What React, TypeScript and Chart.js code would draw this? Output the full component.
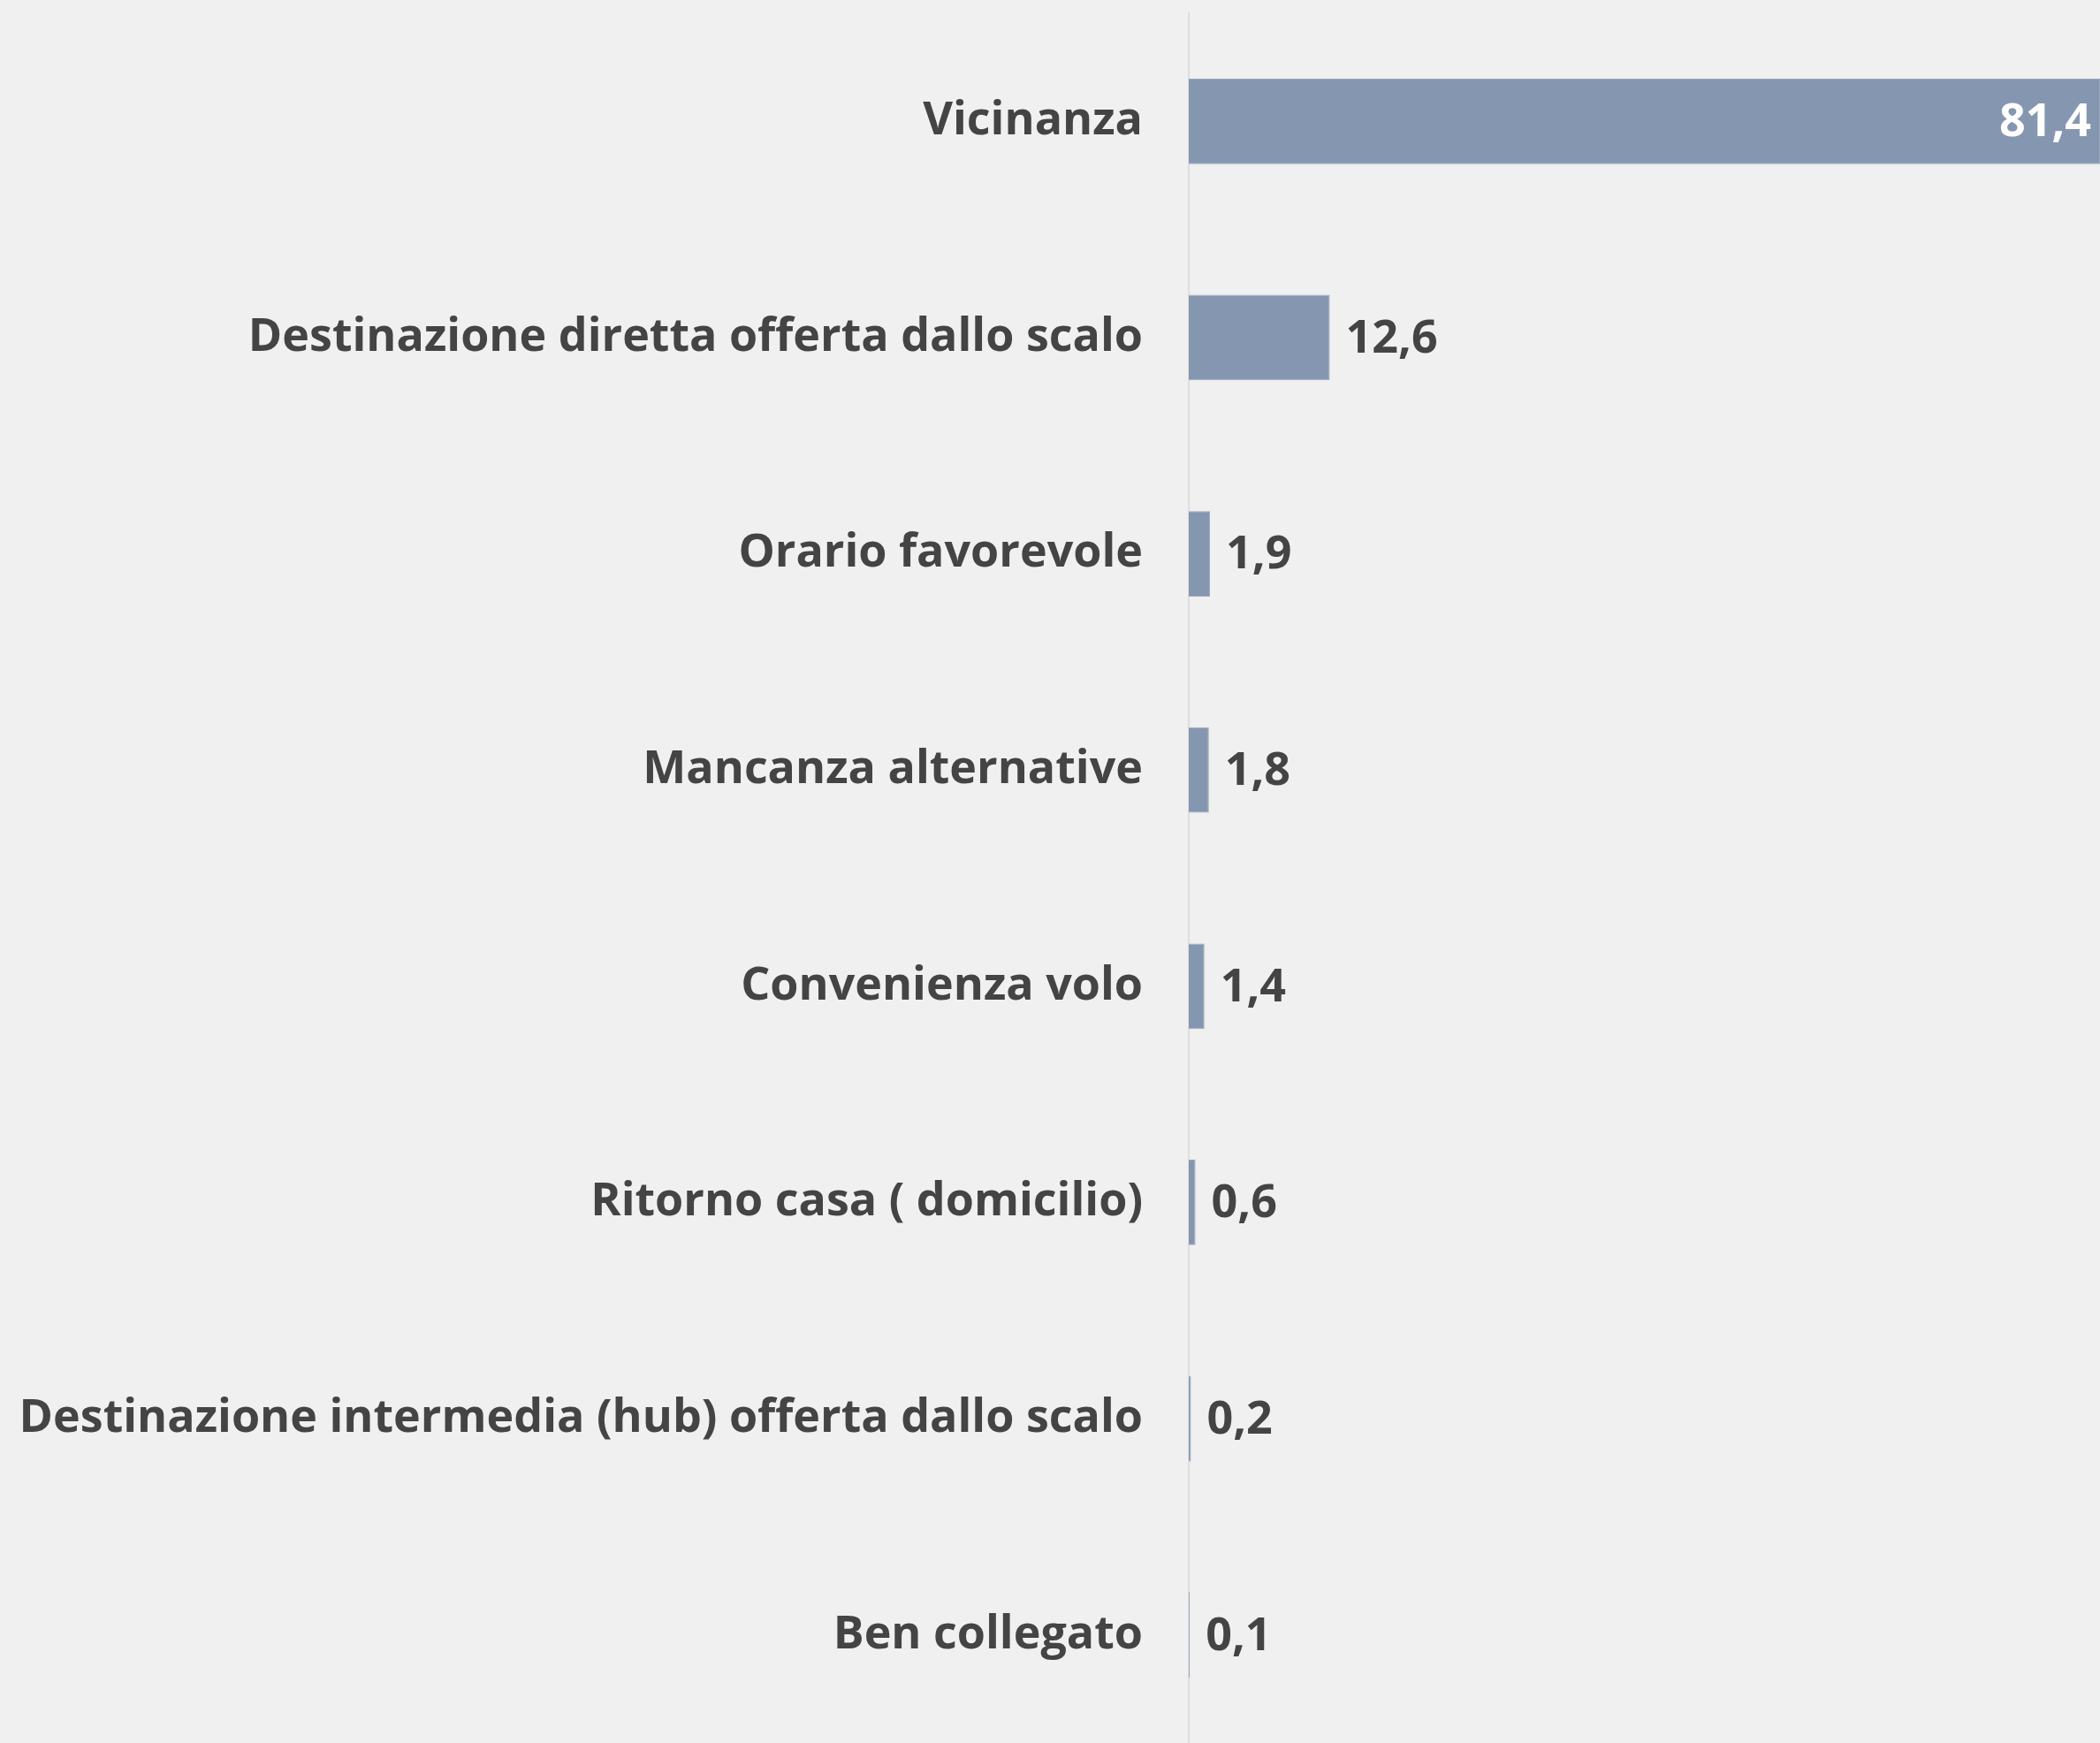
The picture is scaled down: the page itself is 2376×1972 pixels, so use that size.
import React, { useEffect, useRef } from "react";
import { Chart, registerables } from "chart.js";

Chart.register(...registerables);

const categories = [
  "Vicinanza",
  "Destinazione diretta offerta dallo scalo",
  "Orario favorevole",
  "Mancanza alternative",
  "Convenienza volo",
  "Ritorno casa ( domicilio)",
  "Destinazione intermedia (hub) offerta dallo scalo",
  "Ben collegato",
];
const values = [81.4, 12.6, 1.9, 1.8, 1.4, 0.6, 0.2, 0.1];

const FONT_FAMILY = "'Open Sans', Lato, sans-serif";
const FONT_SIZE = 52;
const TEXT_COLOR = "#444444";
const BAR_COLOR = "#8597b0";
const BG = "#f0f0f0";

const fmt = (v: number) => v.toFixed(1).replace(".", ",");

const valueLabels = {
  id: "valueLabels",
  afterDatasetsDraw(chart: any) {
    const ctx = chart.ctx;
    const meta = chart.getDatasetMeta(0);
    const data = chart.data.datasets[0].data as number[];
    const maxV = Math.max(...data);
    ctx.save();
    ctx.font = `bold ${FONT_SIZE}px ${FONT_FAMILY}`;
    ctx.textBaseline = "middle";
    meta.data.forEach((bar: any, i: number) => {
      const v = data[i];
      const { x, y } = bar.getProps(["x", "y"], true);
      if (v === maxV) {
        ctx.fillStyle = "#ffffff";
        ctx.textAlign = "right";
        ctx.fillText(fmt(v), x - 10, y + 2);
      } else {
        ctx.fillStyle = TEXT_COLOR;
        ctx.textAlign = "left";
        ctx.fillText(fmt(v), x + 18, y + 2);
      }
    });
    ctx.restore();
  },
};

const bgPlugin = {
  id: "bg",
  beforeDraw(chart: any) {
    const ctx = chart.ctx;
    ctx.save();
    ctx.fillStyle = BG;
    ctx.fillRect(0, 0, chart.width, chart.height);
    ctx.restore();
  },
};

export default function App() {
  const ref = useRef<HTMLCanvasElement | null>(null);

  useEffect(() => {
    document.body.style.margin = "0";
    document.body.style.background = BG;
    document.body.style.overflow = "hidden";
    if (!ref.current) return;
    const chart = new Chart(ref.current, {
      type: "bar",
      data: {
        labels: categories,
        datasets: [
          {
            data: values,
            backgroundColor: BAR_COLOR,
            borderColor: "#9aaac0",
            borderWidth: 1,
            barPercentage: 0.395,
            categoryPercentage: 1,
          },
        ],
      },
      options: {
        indexAxis: "y",
        animation: false,
        responsive: true,
        maintainAspectRatio: false,
        layout: { padding: { top: 15, right: 0, bottom: 0, left: 0 } },
        plugins: {
          legend: { display: false },
          tooltip: { enabled: false },
        },
        scales: {
          x: {
            display: false,
            min: 0,
            max: 81.4,
          },
          y: {
            position: "left",
            grid: { display: false, drawTicks: false },
            border: { display: true, color: "#dedede", width: 2 },
            ticks: {
              color: TEXT_COLOR,
              padding: 52,
              font: { family: FONT_FAMILY, size: FONT_SIZE, weight: "bold" },
            },
            afterFit(scale: any) {
              scale.width = 1345;
              scale.paddingTop = 0;
              scale.paddingBottom = 0;
            },
          },
        },
      },
      plugins: [bgPlugin, valueLabels],
    });
    return () => chart.destroy();
  }, []);

  return (
    <div style={{ width: 2376, height: 1972, position: "relative", background: BG }}>
      <canvas ref={ref} />
    </div>
  );
}
